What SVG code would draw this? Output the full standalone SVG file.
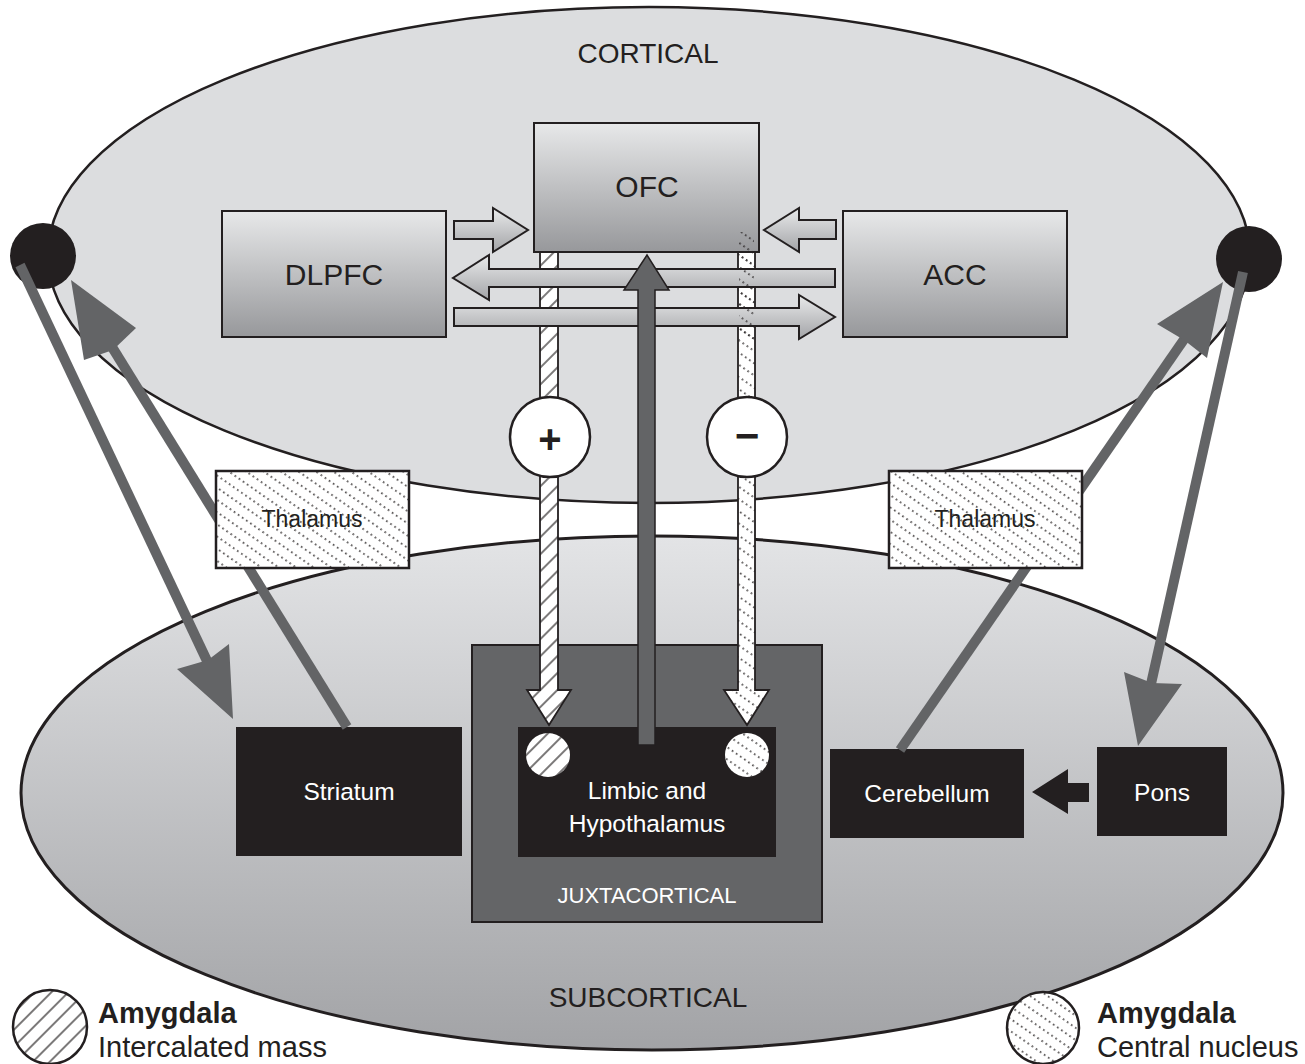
<svg xmlns="http://www.w3.org/2000/svg" width="1305" height="1064" viewBox="0 0 1305 1064">
<style>
  text{font-family:"Liberation Sans",Arial,sans-serif;text-anchor:middle}
  .dk{fill:#231f20}
  .wt{fill:#ffffff}
  .ol{stroke:#231f20;stroke-width:2}
  .gl{stroke:#636466;stroke-width:10;fill:none}
  .gh{fill:#636466}
  .blk{fill:#231f20}
</style>
<defs>
  <linearGradient id="boxGrad" x1="0" y1="0" x2="0" y2="1">
    <stop offset="0" stop-color="#e7e8e9"/>
    <stop offset="1" stop-color="#97989b"/>
  </linearGradient>
  <linearGradient id="arrGrad" x1="0" y1="0" x2="0" y2="1">
    <stop offset="0" stop-color="#e9eaeb"/>
    <stop offset="1" stop-color="#a3a4a7"/>
  </linearGradient>
  <linearGradient id="subGrad" x1="0" y1="0" x2="0" y2="1">
    <stop offset="0" stop-color="#e3e4e6"/>
    <stop offset="1" stop-color="#a2a3a6"/>
  </linearGradient>
  <pattern id="hatch" patternUnits="userSpaceOnUse" width="12" height="12" patternTransform="rotate(-45)">
    <rect width="12" height="12" fill="#ffffff"/>
    <line x1="0" y1="6" x2="12" y2="6" stroke="#231f20" stroke-width="1.2"/>
  </pattern>
  <pattern id="dots" patternUnits="userSpaceOnUse" width="10" height="10" patternTransform="rotate(35)">
    <rect width="10" height="10" fill="#ffffff"/>
    <line x1="0" y1="5" x2="10" y2="5" stroke="#231f20" stroke-width="1.5" stroke-dasharray="1.6 3.4"/>
  </pattern>
  <pattern id="dotsOnly" patternUnits="userSpaceOnUse" width="10" height="10" patternTransform="rotate(35)">
    <line x1="0" y1="5" x2="10" y2="5" stroke="#231f20" stroke-width="1.5" stroke-dasharray="1.6 3.4"/>
  </pattern>
</defs>

<rect width="1305" height="1064" fill="#ffffff"/>

<!-- regions -->
<g id="cortical">
  <ellipse cx="649" cy="255" rx="601" ry="248" fill="#dcdddf" stroke="#231f20" stroke-width="2.5"/>
  <text x="648" y="63" font-size="28" class="dk">CORTICAL</text>
</g>
<g id="subcortical">
  <ellipse cx="652" cy="793" rx="631" ry="257" fill="url(#subGrad)" stroke="#231f20" stroke-width="3"/>
  <text x="648" y="1007" font-size="28" class="dk">SUBCORTICAL</text>
</g>

<g id="dot-left"><circle cx="43" cy="256" r="33" class="blk"/></g>
<g id="dot-right"><circle cx="1249" cy="259" r="33" class="blk"/></g>

<g id="juxtacortical">
  <rect x="472" y="645" width="350" height="277" fill="#646567" stroke="#231f20" stroke-width="2"/>
  <text x="647" y="903" font-size="22" class="wt">JUXTACORTICAL</text>
</g>

<g id="limbic">
  <rect x="518" y="727" width="258" height="130" class="blk"/>
  <circle cx="548" cy="755" r="22" fill="url(#hatch)"/>
  <circle cx="747" cy="755" r="22" fill="url(#dots)"/>
  <text x="647" y="799" font-size="24.5" class="wt">Limbic and</text>
  <text x="647" y="832" font-size="24.5" class="wt">Hypothalamus</text>
</g>

<g id="striatum">
  <rect x="236" y="727" width="226" height="129" class="blk"/>
  <text x="349" y="800" font-size="24.5" class="wt">Striatum</text>
</g>
<g id="cerebellum">
  <rect x="830" y="749" width="194" height="89" class="blk"/>
  <text x="927" y="802" font-size="24.5" class="wt">Cerebellum</text>
</g>
<g id="pons">
  <rect x="1097" y="747" width="130" height="89" class="blk"/>
  <text x="1162" y="801" font-size="24.5" class="wt">Pons</text>
</g>

<g id="ofc">
  <rect x="534" y="123" width="225" height="129" fill="url(#boxGrad)" class="ol"/>
  <text x="647" y="197" font-size="30" class="dk">OFC</text>
</g>
<g id="dlpfc">
  <rect x="222" y="211" width="224" height="126" fill="url(#boxGrad)" class="ol"/>
  <text x="334" y="285" font-size="30" class="dk">DLPFC</text>
</g>
<g id="acc">
  <rect x="843" y="211" width="224" height="126" fill="url(#boxGrad)" class="ol"/>
  <text x="955" y="285" font-size="30" class="dk">ACC</text>
</g>

<!-- connectors -->
<g id="connectors">
  <!-- gray long-range pathways -->
  <line x1="20" y1="265" x2="208" y2="663" class="gl"/>
  <polygon points="233,719 177,669 208,660 229,644" class="gh"/>
  <line x1="347" y1="727" x2="112" y2="347" class="gl"/>
  <polygon points="71,280 136,328 113,350 84,360" class="gh"/>
  <line x1="1243" y1="272" x2="1151" y2="684" class="gl"/>
  <polygon points="1138,746 1124,672 1152,683 1182,684" class="gh"/>
  <line x1="900" y1="750" x2="1185" y2="338" class="gl"/>
  <polygon points="1223,282 1207,358 1184,340 1157,324" class="gh"/>

  <!-- hatched OFC descending pathways -->
  <polygon points="540,252 558,252 558,690 571,690 549,725 527,690 540,690" fill="url(#hatch)" stroke="#231f20" stroke-width="1.8"/>
  <polygon points="738,252 755,252 755,690 769,690 747,725 724,690 738,690" fill="url(#dots)" stroke="#231f20" stroke-width="1.8"/>

  <!-- cortical interconnections -->
  <polygon points="454,221 493,221 493,208 528,230 493,252 493,239 454,239" fill="url(#arrGrad)" class="ol"/>
  <polygon points="836,220 799,220 799,208 764,230 799,252 799,239 836,239" fill="url(#arrGrad)" class="ol"/>
  <polygon points="835,269 489,269 489,255 453,278 489,300 489,287 835,287" fill="url(#arrGrad)" class="ol"/>
  <polygon points="454,308 799,308 799,295 835,317 799,339 799,326 454,326" fill="url(#arrGrad)" class="ol"/>
  <rect x="739" y="232" width="15" height="108" fill="url(#dotsOnly)"/>

  <!-- ascending limbic pathway -->
  <polygon points="638,745 638,290 624,290 647,255 669,290 655,290 655,745" fill="#636466" stroke="#231f20" stroke-width="1.5"/>

  <!-- pons to cerebellum -->
  <polygon points="1089,783 1068,783 1068,769 1032,792 1068,814 1068,802 1089,802" class="blk"/>

  <!-- modulation signs -->
  <circle cx="550" cy="437" r="40" fill="#ffffff" stroke="#231f20" stroke-width="2.5"/>
  <text x="550" y="453" font-size="40" font-weight="bold" class="dk">+</text>
  <circle cx="747" cy="437" r="40" fill="#ffffff" stroke="#231f20" stroke-width="2.5"/>
  <text x="747" y="450" font-size="42" font-weight="bold" class="dk">−</text>
</g>

<g id="thalamus-left">
  <rect x="216" y="471" width="193" height="97" fill="url(#dots)" stroke="#231f20" stroke-width="2.5"/>
  <text x="312" y="527" font-size="23" class="dk">Thalamus</text>
</g>
<g id="thalamus-right">
  <rect x="889" y="471" width="193" height="97" fill="url(#dots)" stroke="#231f20" stroke-width="2.5"/>
  <text x="985" y="527" font-size="23" class="dk">Thalamus</text>
</g>

<g id="legend-intercalated">
  <circle cx="50" cy="1027" r="37" fill="url(#hatch)" stroke="#231f20" stroke-width="2.5"/>
  <text x="98" y="1023" font-size="29" font-weight="bold" class="dk" style="text-anchor:start">Amygdala</text>
  <text x="98" y="1057" font-size="29" class="dk" style="text-anchor:start">Intercalated mass</text>
</g>
<g id="legend-central">
  <circle cx="1043" cy="1028" r="36" fill="url(#dots)" stroke="#231f20" stroke-width="2.5"/>
  <text x="1097" y="1023" font-size="29" font-weight="bold" class="dk" style="text-anchor:start">Amygdala</text>
  <text x="1097" y="1057" font-size="29" class="dk" style="text-anchor:start">Central nucleus</text>
</g>
</svg>
